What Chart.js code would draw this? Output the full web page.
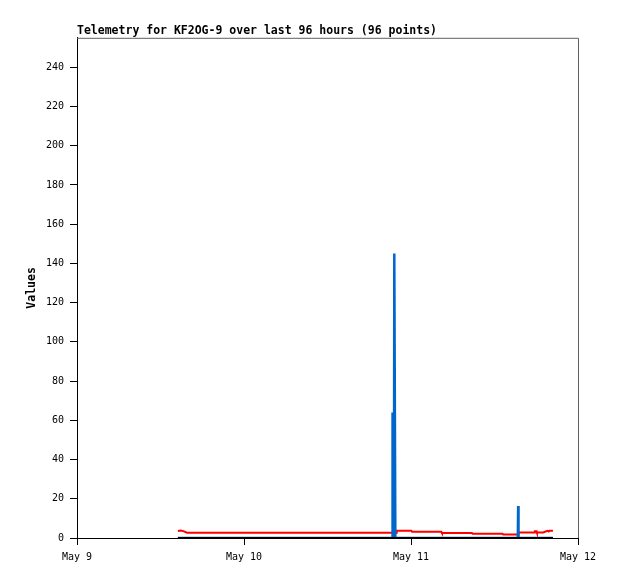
<!DOCTYPE html>
<html>
<head>
<meta charset="utf-8">
<script src="https://cdn.jsdelivr.net/npm/chart.js@4"></script>
<style>
  body { margin: 0; background: #fff; }
  canvas { display: block; }
</style>
</head>
<body>
<canvas id="telemetry-chart" width="618" height="579"></canvas>
<script>
// hours since May 9 00:00
const hours = [14.5, 14.9, 15.3, 15.8, 17, 18.5, 20, 21.5, 23, 24.5,
  26, 27.5, 29, 30.5, 32, 33.5, 35, 36.5, 38, 39.5,
  41, 42.5, 44, 45.3, 45.35, 45.55, 45.6, 45.75, 45.9, 45.95,
  47, 48.05, 48.15, 49.5, 51, 52.35, 52.45, 54, 55.5, 56.75,
  56.85, 58.5, 60, 61.15, 61.25, 62.5, 63.35, 63.4, 63.45, 64.5,
  65.5, 65.75, 65.8, 66.05, 66.1, 67, 67.6, 67.8, 67.9, 68.1, 68.4];
const redValues = [3.6, 3.8, 3.5, 2.7, 2.7, 2.7, 2.7, 2.7, 2.7, 2.7,
  2.7, 2.7, 2.7, 2.7, 2.7, 2.7, 2.7, 2.7, 2.7, 2.7,
  2.7, 2.7, 2.7, 2.7, 2.7, 2.7, 2.7, 2.7, 2.7, 3.7,
  3.7, 3.7, 3.2, 3.2, 3.2, 3.2, 2.55, 2.55, 2.55, 2.55,
  2.2, 2.2, 2.2, 2.2, 1.8, 1.8, 1.8, 1.8, 2.8, 2.8,
  2.8, 2.8, 3.4, 3.4, 2.8, 2.8, 3.7, 3.3, 3.7, 3.7, 3.7];
const blueValues = [0, 0, 0, 0, 0, 0, 0, 0, 0, 0,
  0, 0, 0, 0, 0, 0, 0, 0, 0, 0,
  0, 0, 0, 0, 64, 0, 145, 0, 0, 0,
  0, 0, 0, 0, 0, 0, 0, 0, 0, 0,
  0, 0, 0, 0, 0, 0, 0, 16.3, 0, 0,
  0, 0, 0, 0, 0, 0, 0, 0, 0, 0, 0];
const blackValues = [0, 0, 0, 0, 0, 0, 0, 0, 0, 0,
  0, 0, 0, 0, 0, 0, 0, 0, 0, 0,
  0, 0, 0, 0, 0, 0, 0, 0, 0, 0,
  0, 0, 0, 0, 0, 0, 0, 0, 0, 0,
  0, 0, 0, 0, 0, 0, 0, 0, 0, 0,
  0, 0, 0, 0, 0, 0, 0, 0, 0, 0, 0];
const dayLabels = ["May 9", "May 10", "May 11", "May 12"];

const toPoints = (vals) => vals.map((v, i) => ({ x: hours[i], y: v }));
const mono = "'DejaVu Sans Mono', 'Liberation Mono', monospace";

// gray frame on top and right side
const framePlugin = {
  id: "frame",
  afterDraw(chart) {
    const { ctx, chartArea: a } = chart;
    ctx.save();
    ctx.strokeStyle = "#606060";
    ctx.lineWidth = 1;
    ctx.beginPath();
    ctx.moveTo(a.left, a.top + 0.5);
    ctx.lineTo(a.right + 0.5, a.top + 0.5);
    ctx.lineTo(a.right + 0.5, a.bottom);
    ctx.stroke();
    ctx.restore();
  }
};

const chartCtx = document.getElementById("telemetry-chart").getContext("2d");
new Chart(chartCtx, {
  type: "line",
  data: {
    datasets: [
      { data: toPoints(blackValues), borderColor: "#000000", borderWidth: 2 },
      { data: toPoints(blueValues), borderColor: "#0066cc", borderWidth: 2.5 },
      { data: toPoints(redValues), borderColor: "#ff0000", borderWidth: 2 }
    ]
  },
  options: {
    responsive: false,
    animation: false,
    events: [],
    elements: { point: { radius: 0 }, line: { tension: 0 } },
    layout: { padding: { left: 0, right: 40, top: 0, bottom: 0 } },
    plugins: {
      legend: { display: false },
      tooltip: { enabled: false },
      title: {
        display: true,
        text: "Telemetry for KF2OG-9 over last 96 hours (96 points)",
        align: "start",
        fullSize: false,
        color: "#000",
        font: { family: mono, size: 11.5, weight: "bold" },
        padding: { top: 24, bottom: 0 }
      }
    },
    scales: {
      x: {
        type: "linear",
        min: 0,
        max: 72,
        afterFit(scale) { scale.height = 41; },
        border: { color: "#000", width: 1 },
        grid: { drawOnChartArea: false, drawTicks: true, tickLength: 7, color: "#000" },
        ticks: {
          stepSize: 24,
          padding: 6,
          color: "#000",
          maxRotation: 0,
          font: { family: mono, size: 10 },
          callback: (v) => dayLabels[v / 24]
        }
      },
      y: {
        min: 0,
        max: 255,
        afterFit(scale) { scale.width = 77; },
        afterBuildTicks(scale) {
          scale.ticks = scale.ticks.filter(t => t.value % 20 === 0);
        },
        border: { color: "#000", width: 1 },
        grid: { drawOnChartArea: false, drawTicks: true, tickLength: 7, color: "#000" },
        title: {
          display: true,
          text: "Values",
          color: "#000",
          font: { family: mono, size: 11.5, weight: "bold" },
          padding: { top: 25, bottom: 0 }
        },
        ticks: {
          stepSize: 20,
          padding: 6,
          color: "#000",
          font: { family: mono, size: 10 }
        }
      }
    }
  },
  plugins: [framePlugin]
});
</script>
</body>
</html>
